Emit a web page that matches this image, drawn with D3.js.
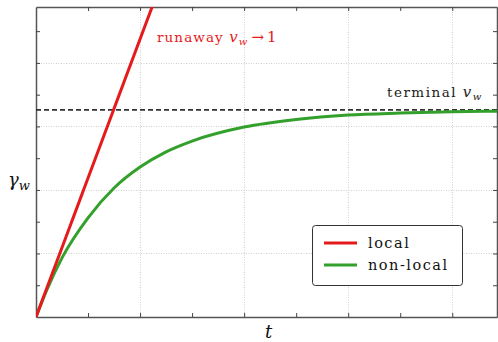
<!DOCTYPE html>
<html>
<head>
<meta charset="utf-8">
<script src="https://cdn.jsdelivr.net/npm/d3@7"></script>
<style>
  html, body { margin: 0; padding: 0; background: #fff; }
  svg { display: block; }
  text { font-family: "DejaVu Serif", "Liberation Serif", serif; }
</style>
</head>
<body>
<svg id="chart" width="498" height="342"></svg>
<script>
// Wall Lorentz factor versus time: local (runaway) vs non-local (terminal) friction
const tDomain = [0, 4.43];
const gammaDomain = [0, 4.88];
const majorTicksT = [1, 2, 3, 4];
const minorTicksT = [0.5, 1.5, 2.5, 3.5];
const majorTicksGamma = [1, 2, 3, 4];
const minorTicksGamma = [0.5, 1.5, 2.5, 3.5, 4.5];

const localT = [0, 1.2];
const localGamma = [0, 5.25];

const nonLocalT = [0, 0.1, 0.25, 0.5, 0.75, 1.0, 1.25, 1.5, 2.0, 2.5, 3.0, 3.5, 4.0, 4.43];
const nonLocalGamma = [0, 0.41, 0.93, 1.56, 2.03, 2.36, 2.60, 2.77, 2.99, 3.11, 3.18, 3.21, 3.23, 3.24];

const terminalGamma = 3.26;

const seriesNames = ["local", "non-local"];
const seriesColors = ["#e41a1c", "#33a02c"];

const svg = d3.select("#chart");
const plotLeft = 36, plotRight = 497, plotTop = 7, plotBottom = 317;

const x = d3.scaleLinear().domain(tDomain).range([plotLeft, plotRight]);
const y = d3.scaleLinear().domain(gammaDomain).range([plotBottom, plotTop]);

svg.append("defs").append("clipPath").attr("id", "plotClip")
  .append("rect").attr("x", plotLeft).attr("y", plotTop)
  .attr("width", plotRight - plotLeft).attr("height", plotBottom - plotTop);

// dotted grid at major ticks
const grid = svg.append("g").attr("stroke", "#cfcfcf").attr("stroke-width", 1)
  .attr("stroke-dasharray", "1,1.5");
grid.selectAll(".gx").data(majorTicksT).join("line")
  .attr("x1", d => Math.round(x(d)) + 0.5).attr("x2", d => Math.round(x(d)) + 0.5)
  .attr("y1", plotTop).attr("y2", plotBottom);
grid.selectAll(".gy").data(majorTicksGamma).join("line")
  .attr("y1", d => Math.round(y(d)) + 0.5).attr("y2", d => Math.round(y(d)) + 0.5)
  .attr("x1", plotLeft).attr("x2", plotRight);

// frame with inward ticks
function frameAxis(axisGen, transform) {
  const g = svg.append("g").attr("transform", transform).call(axisGen);
  g.selectAll("text").remove();
  g.select(".domain").attr("stroke", "#555").attr("stroke-width", 1.5);
  g.selectAll(".tick line").attr("stroke", "#444").attr("stroke-width", 1);
  return g;
}
const allT = majorTicksT.concat(minorTicksT);
const allG = majorTicksGamma.concat(minorTicksGamma);
frameAxis(d3.axisBottom(x).tickValues(allT).tickSizeInner(-4).tickSizeOuter(0), `translate(0,${plotBottom})`);
frameAxis(d3.axisTop(x).tickValues(allT).tickSizeInner(-4).tickSizeOuter(0), `translate(0,${plotTop})`);
frameAxis(d3.axisLeft(y).tickValues(allG).tickSizeInner(-4).tickSizeOuter(0), `translate(${plotLeft},0)`);
frameAxis(d3.axisRight(y).tickValues(allG).tickSizeInner(-4).tickSizeOuter(0), `translate(${plotRight},0)`);

const plot = svg.append("g").attr("clip-path", "url(#plotClip)");

// terminal value
plot.append("line")
  .attr("x1", plotLeft).attr("x2", plotRight)
  .attr("y1", y(terminalGamma)).attr("y2", y(terminalGamma))
  .attr("stroke", "#333").attr("stroke-width", 1.6)
  .attr("stroke-dasharray", "5,3");

plot.append("path")
  .datum(nonLocalT.map((t, i) => [t, nonLocalGamma[i]]))
  .attr("d", d3.line().x(d => x(d[0])).y(d => y(d[1])).curve(d3.curveMonotoneX))
  .attr("fill", "none").attr("stroke", seriesColors[1]).attr("stroke-width", 3);

plot.append("path")
  .datum(localT.map((t, i) => [t, localGamma[i]]))
  .attr("d", d3.line().x(d => x(d[0])).y(d => y(d[1])))
  .attr("fill", "none").attr("stroke", seriesColors[0]).attr("stroke-width", 3);

// annotations
const runaway = svg.append("text").attr("x", 157).attr("y", 42)
  .attr("fill", "#e41a1c").attr("font-size", 13.5).attr("letter-spacing", 1.1);
runaway.append("tspan").text("runaway ");
runaway.append("tspan").attr("font-style", "italic").attr("font-size", 15).text("v");
runaway.append("tspan").attr("font-style", "italic").attr("font-size", 10).attr("dy", 3).text("w");
runaway.append("tspan").attr("dy", -3).attr("dx", 3).attr("font-size", 15).attr("letter-spacing", 0).text("→");
runaway.append("tspan").attr("dx", 3).attr("font-size", 15).attr("letter-spacing", 0).text("1");

const terminal = svg.append("text").attr("x", 387).attr("y", 97)
  .attr("fill", "#222").attr("font-size", 13.5).attr("letter-spacing", 1.5);
terminal.append("tspan").text("terminal ");
terminal.append("tspan").attr("font-style", "italic").attr("font-size", 15).text("v");
terminal.append("tspan").attr("font-style", "italic").attr("font-size", 10).attr("dy", 3).text("w");

const yLabel = svg.append("text").attr("x", 8).attr("y", 186)
  .attr("fill", "#111").attr("font-size", 18).attr("font-style", "italic");
yLabel.append("tspan").text("γ");
yLabel.append("tspan").attr("font-size", 13).attr("dy", 4).text("w");

svg.append("text").attr("x", (plotLeft + plotRight) / 2 + 2).attr("y", 338)
  .attr("text-anchor", "middle").attr("fill", "#111")
  .attr("font-size", 18).attr("font-style", "italic").text("t");

// legend
const legend = svg.append("g").attr("transform", "translate(312,225)");
legend.append("rect").attr("x", 0.5).attr("y", 0.5).attr("width", 150).attr("height", 60)
  .attr("rx", 3).attr("fill", "#fff").attr("stroke", "#333").attr("stroke-width", 1);
seriesNames.forEach((name, i) => {
  const yy = 18 + i * 22;
  legend.append("line").attr("x1", 12).attr("x2", 45).attr("y1", yy).attr("y2", yy)
    .attr("stroke", seriesColors[i]).attr("stroke-width", 3);
  legend.append("text").attr("x", 56).attr("y", yy + 5)
    .attr("font-size", 14.5).attr("letter-spacing", 1.5).attr("fill", "#111").text(name);
});
</script>
</body>
</html>
